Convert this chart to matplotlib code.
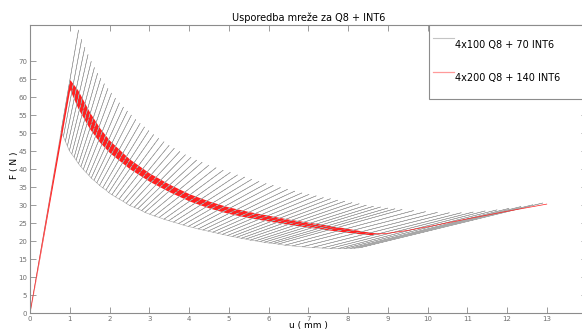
import matplotlib
matplotlib.use('Agg')
import matplotlib.pyplot as plt
from matplotlib.lines import Line2D
import numpy as np

# grey series: 70 snap strokes, each from a bottom point up to a top point
grey_top_u = [1.22, 1.30, 1.38, 1.46, 1.54, 1.62, 1.70, 1.78, 1.87, 1.96,
              2.05, 2.15, 2.25, 2.35, 2.45, 2.55, 2.66, 2.77, 2.88, 2.99,
              3.11, 3.24, 3.37, 3.50, 3.63, 3.77, 3.91, 4.05, 4.19, 4.33,
              4.50, 4.68, 4.86, 5.04, 5.22, 5.40, 5.58, 5.76, 5.94, 6.12,
              6.30, 6.48, 6.66, 6.84, 7.02, 7.20, 7.38, 7.56, 7.74, 7.92,
              8.10, 8.28, 8.46, 8.64, 8.82, 9.00, 9.18, 9.36, 9.65, 9.95,
              10.25, 10.55, 10.85, 11.15, 11.45, 11.75, 12.05, 12.35, 12.65, 12.90]
grey_top_F = [78.6, 76.0, 73.8, 71.8, 69.9, 68.2, 66.6, 65.2, 63.7, 62.4,
              61.1, 59.7, 58.4, 57.2, 56.1, 55.0, 53.8, 52.7, 51.7, 50.7,
              49.6, 48.6, 47.6, 46.6, 45.8, 44.9, 44.0, 43.3, 42.5, 41.9,
              41.1, 40.4, 39.7, 39.1, 38.4, 37.8, 37.2, 36.6, 36.0, 35.5,
              34.9, 34.4, 33.9, 33.4, 33.0, 32.6, 32.1, 31.8, 31.4, 31.1,
              30.7, 30.4, 30.0, 29.7, 29.5, 29.2, 29.0, 28.8, 28.5, 28.2,
              28.0, 27.9, 27.9, 28.1, 28.4, 28.7, 29.1, 29.6, 30.1, 30.6]
grey_bot_u = [0.78, 0.84, 0.89, 0.94, 0.99, 1.05, 1.11, 1.16, 1.22, 1.28,
              1.34, 1.41, 1.48, 1.54, 1.61, 1.68, 1.75, 1.83, 1.91, 1.98,
              2.06, 2.15, 2.24, 2.34, 2.42, 2.51, 2.62, 2.71, 2.81, 2.89,
              3.01, 3.13, 3.25, 3.37, 3.49, 3.61, 3.74, 3.85, 3.98, 4.10,
              4.23, 4.35, 4.48, 4.60, 4.72, 4.84, 4.97, 5.08, 5.20, 5.31,
              5.43, 5.54, 5.67, 5.78, 5.89, 6.01, 6.13, 6.24, 6.41, 6.60,
              6.85, 7.10, 7.35, 7.55, 7.75, 7.90, 8.05, 8.15, 8.25, 8.30]
grey_bot_F = [50.4, 49.0, 47.7, 46.4, 45.1, 44.2, 43.3, 42.5, 41.5, 40.7,
              39.9, 39.1, 38.3, 37.5, 36.9, 36.2, 35.5, 34.8, 34.2, 33.5,
              32.9, 32.3, 31.7, 31.1, 30.5, 29.9, 29.4, 29.0, 28.5, 28.0,
              27.5, 27.0, 26.6, 26.1, 25.7, 25.3, 24.9, 24.5, 24.1, 23.8,
              23.4, 23.1, 22.8, 22.5, 22.2, 21.9, 21.6, 21.3, 21.1, 20.8,
              20.6, 20.3, 20.1, 19.9, 19.7, 19.5, 19.4, 19.2, 18.9, 18.7,
              18.45, 18.25, 18.1, 18.0, 17.95, 17.95, 18.0, 18.05, 18.15, 18.2]

# red series: mean curve and half thickness of the dense oscillation band
red_u = [0, 1.0, 1.2, 1.5, 1.75, 2.0, 2.5, 3.0, 3.5, 4.0, 4.5, 5.0, 5.5, 6.0,
         6.5, 7.0, 7.5, 8.0, 8.3, 8.6, 8.8, 9.0, 9.5, 10.0, 11.0, 12.0, 13.0]
red_F = [0, 63.5, 59.5, 53.5, 49.5, 46.3, 41.5, 37.8, 34.8, 32.2, 30.2, 28.6, 27.4, 26.4,
         25.4, 24.6, 23.8, 23.0, 22.5, 22.1, 22.05, 22.2, 23.0, 24.0, 26.2, 28.3, 30.3]
red_half = [0, 1.4, 2.5, 2.3, 2.0, 1.7, 1.35, 1.15, 1.05, 1.0, 0.95, 0.9, 0.85, 0.8,
            0.75, 0.7, 0.65, 0.55, 0.45, 0.3, 0, 0, 0, 0, 0, 0, 0]

labels = ['4x100 Q8 + 70 INT6', '4x200 Q8 + 140 INT6']
x_ticks = list(range(0, 14))
y_ticks = list(range(0, 75, 5))

# build the grey path: up each stroke, back down, along to the next one
gu, gF = [0.0], [0.0]
for bu, bF, tu, tF in zip(grey_bot_u, grey_bot_F, grey_top_u, grey_top_F):
    gu += [bu, tu, bu]
    gF += [bF, tF, bF]

axis_grey = '#8c8c8c'

fig = plt.figure(figsize=(5.82, 3.30), dpi=100)
ax = fig.add_axes([30 / 582, 16.7 / 330, 556.5 / 582, 288.3 / 330])

ax.plot(gu, gF, color='#a8a8a8', lw=0.4)

ru = np.array(red_u)
rF = np.array(red_F)
rh = np.array(red_half)
ax.fill_between(ru, rF - rh, rF + rh, color='#ff2020', lw=0)
ax.plot(ru, rF, color='#ff2020', lw=0.5)

ax.set_xlim(0, 14)
ax.set_ylim(0, 80)
ax.set_xticks(x_ticks)
ax.set_yticks(y_ticks)
ax.tick_params(direction='in', length=4.5, width=0.6, top=True, right=True,
               labelsize=5, colors=axis_grey, labelcolor='#707070', pad=2)
for sp in ax.spines.values():
    sp.set_color(axis_grey)
    sp.set_linewidth(0.8)

ax.set_title('Usporedba mreže za Q8 + INT6', fontsize=7, pad=3)
ax.set_xlabel('u ( mm )', fontsize=6.5)
ax.xaxis.set_label_coords(0.5, -12.4 / 288.3)
ax.xaxis.label.set_va('center')
ax.set_ylabel('F ( N )', fontsize=6.5)
ax.yaxis.set_label_coords(-15 / 556.5, 0.514)
ax.yaxis.label.set_va('center')

handles = [Line2D([], [], color='#c4c4c4', lw=0.8),
           Line2D([], [], color='#ff9a9a', lw=0.9)]
leg = ax.legend(handles, labels, loc='upper left',
                bbox_to_anchor=(0.717, 0, 0.3, 1.0), mode='expand',
                fontsize=7, frameon=True, fancybox=False, framealpha=1,
                borderpad=0.4, labelspacing=0, handleheight=4.9,
                handlelength=2.2, handletextpad=0.1, borderaxespad=0)
leg.get_frame().set_edgecolor(axis_grey)
leg.get_frame().set_linewidth(0.8)

fig.savefig('out.png', dpi=100)
